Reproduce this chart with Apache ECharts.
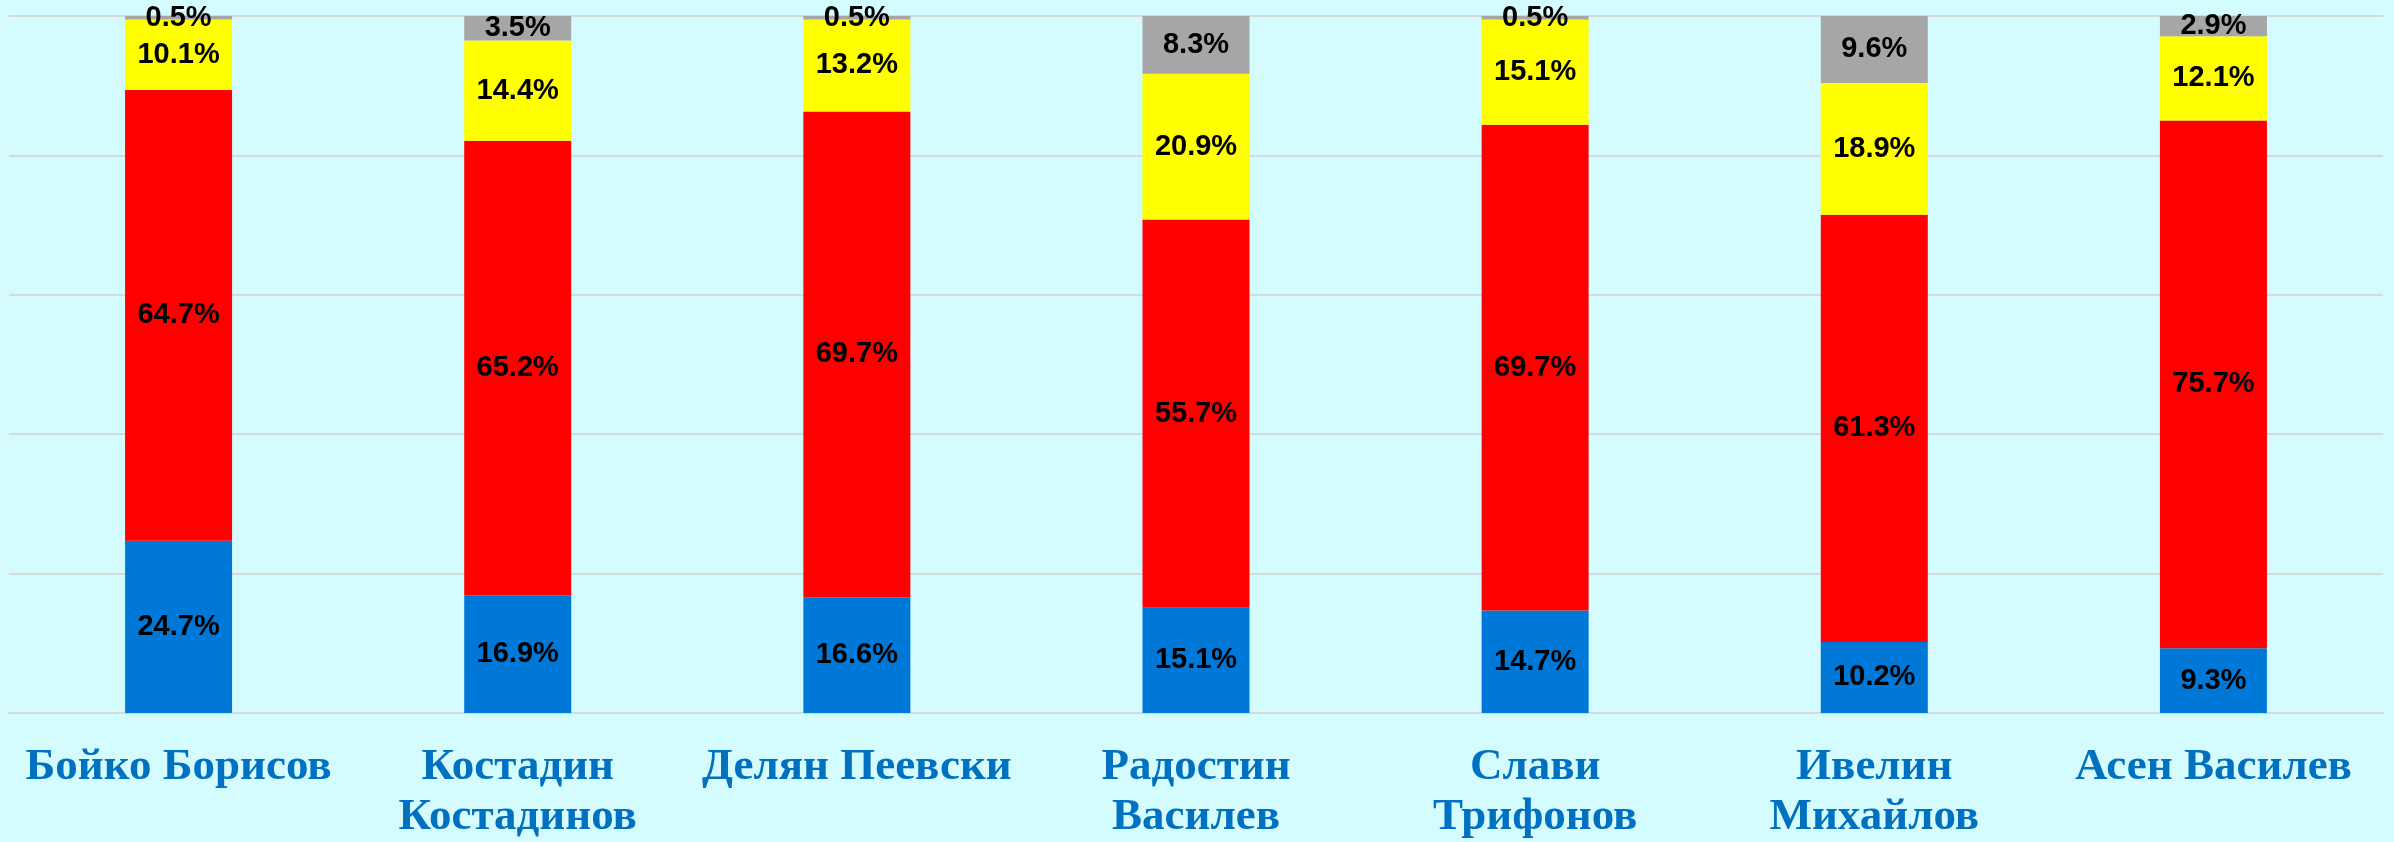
<!DOCTYPE html>
<html>
<head>
<meta charset="utf-8">
<script src="https://cdn.jsdelivr.net/npm/echarts@6/dist/echarts.min.js"></script>
<style>
html,body{margin:0;padding:0;background:#D4FBFD;}
#c{width:2394px;height:842px;}
</style>
</head>
<body>
<div id="c"></div>
<script>
const categories = ['Бойко Борисов', 'Костадин\nКостадинов', 'Делян Пеевски', 'Радостин\nВасилев', 'Слави\nТрифонов', 'Ивелин\nМихайлов', 'Асен Василев'];
const blueValues = [24.7, 16.9, 16.6, 15.1, 14.7, 10.2, 9.3];
const redValues = [64.7, 65.2, 69.7, 55.7, 69.7, 61.3, 75.7];
const yellowValues = [10.1, 14.4, 13.2, 20.9, 15.1, 18.9, 12.1];
const grayValues = [0.5, 3.5, 0.5, 8.3, 0.5, 9.6, 2.9];
const yTicks = [0, 20, 40, 60, 80, 100];

const chart = echarts.init(document.getElementById('c'));
const labelStyle = {
  show: true,
  position: 'inside',
  formatter: p => p.value.toFixed(1) + '%',
  color: '#000',
  fontFamily: '"Liberation Sans Narrow", "Liberation Sans", sans-serif',
  fontWeight: 'bold',
  fontSize: 29
};
function mk(name, data, color) {
  return {
    name, type: 'bar', stack: 'all', data,
    barWidth: 107,
    itemStyle: { color },
    label: labelStyle,
    emphasis: { disabled: true }
  };
}
chart.setOption({
  backgroundColor: '#D4FBFD',
  animation: false,
  grid: { left: 9, right: 11, top: 16, bottom: 127, containLabel: false },
  xAxis: {
    type: 'category',
    data: categories,
    axisLine: { show: true, lineStyle: { color: '#D9D9D9', width: 2 } },
    axisTick: { show: false },
    axisLabel: {
      interval: 0,
      margin: 29,
      color: '#0070C0',
      fontFamily: '"Liberation Serif", serif',
      fontWeight: 'bold',
      fontSize: 45,
      lineHeight: 50
    }
  },
  yAxis: {
    type: 'value',
    min: yTicks[0],
    max: yTicks[yTicks.length - 1],
    interval: yTicks[1] - yTicks[0],
    axisLabel: { show: false },
    axisLine: { show: false },
    axisTick: { show: false },
    splitLine: { lineStyle: { color: '#D9D9D9', width: 2 } }
  },
  series: [
    mk('blue', blueValues, '#0078D7'),
    mk('red', redValues, '#FF0000'),
    mk('yellow', yellowValues, '#FFFF00'),
    mk('gray', grayValues, '#A6A6A6')
  ]
});
</script>
</body>
</html>
